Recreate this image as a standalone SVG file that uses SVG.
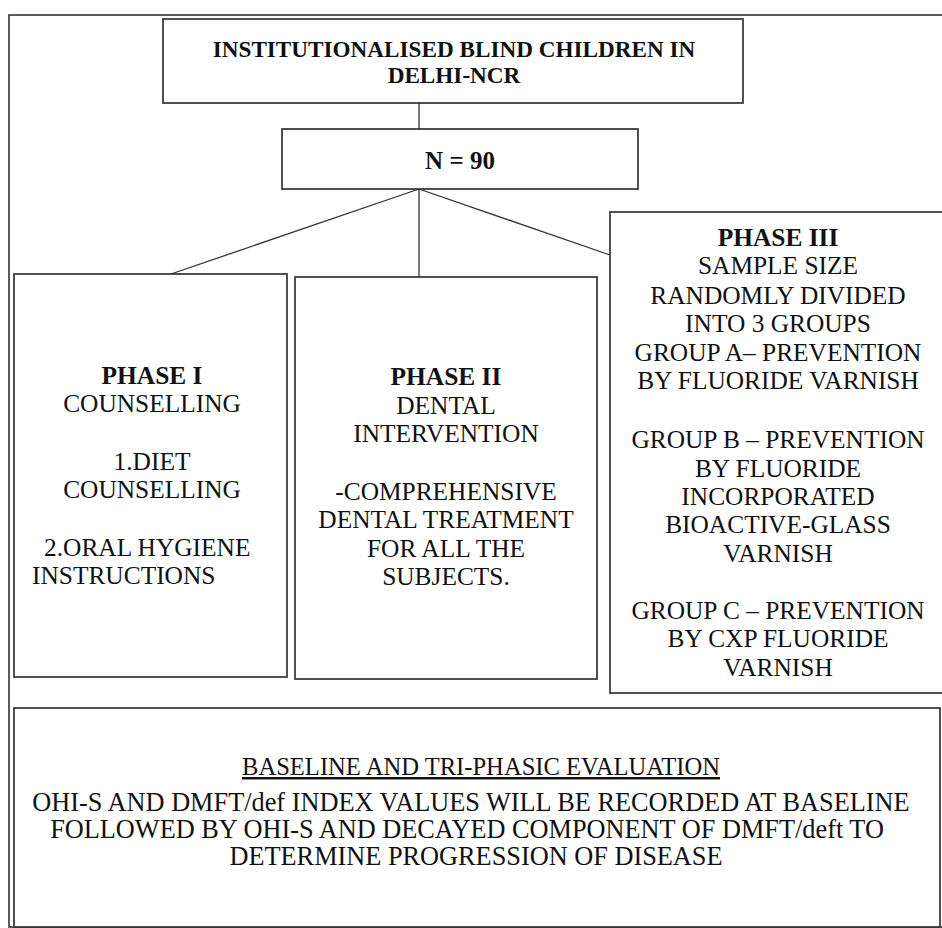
<svg xmlns="http://www.w3.org/2000/svg" width="942" height="928" viewBox="0 0 942 928">
<style>
.box{fill:#fff;stroke:#333;stroke-width:1.7}
.frame{fill:none;stroke:#333;stroke-width:1.6}
.con{stroke:#333;stroke-width:1.3;fill:none}
text{font-family:"Liberation Serif","Times New Roman",serif;fill:#111;font-size:25.4px}
.c{text-anchor:middle}
.b{font-weight:bold}
.t{font-size:23.2px}
.n{font-size:25px}
.h{font-size:24.6px;text-decoration:underline}
.e{font-size:26.3px}
</style>
<rect width="942" height="928" fill="#fff"/>
<rect class="frame" x="9" y="15" width="942" height="912"/>
<g id="connectors">
<line class="con" x1="419" y1="103" x2="419" y2="129"/>
<line class="con" x1="419" y1="189" x2="171" y2="274"/>
<line class="con" x1="419" y1="189" x2="419" y2="277"/>
<line class="con" x1="419" y1="189" x2="610" y2="255"/>
</g>
<g id="top">
<rect class="box" x="163" y="19" width="580" height="84"/>
<text class="c b t" x="454" y="57">INSTITUTIONALISED BLIND CHILDREN IN</text>
<text class="c b t" x="454" y="83">DELHI-NCR</text>
</g>
<g id="n90">
<rect class="box" x="282" y="129" width="356" height="60"/>
<text class="c b n" x="460" y="169">N = 90</text>
</g>
<g id="phase1">
<rect class="box" x="14" y="274" width="273" height="403"/>
<text class="c b" x="152" y="384">PHASE I</text>
<text class="c" x="152" y="412">COUNSELLING</text>
<text class="c" x="152" y="470">1.DIET</text>
<text class="c" x="152" y="498">COUNSELLING</text>
<text x="44" y="556">2.ORAL HYGIENE</text>
<text x="32" y="584">INSTRUCTIONS</text>
</g>
<g id="phase2">
<rect class="box" x="295" y="277" width="302" height="402"/>
<text class="c b" x="446" y="385">PHASE II</text>
<text class="c" x="446" y="414">DENTAL</text>
<text class="c" x="446" y="442">INTERVENTION</text>
<text class="c" x="446" y="500">-COMPREHENSIVE</text>
<text class="c" x="446" y="528">DENTAL TREATMENT</text>
<text class="c" x="446" y="557">FOR ALL THE</text>
<text class="c" x="446" y="585">SUBJECTS.</text>
</g>
<g id="phase3">
<rect class="box" x="610" y="212" width="340" height="481"/>
<text class="c b" x="778" y="246">PHASE III</text>
<text class="c" x="778" y="274">SAMPLE SIZE</text>
<text class="c" x="778" y="304">RANDOMLY DIVIDED</text>
<text class="c" x="778" y="332">INTO 3 GROUPS</text>
<text class="c" x="778" y="361">GROUP A– PREVENTION</text>
<text class="c" x="778" y="389">BY FLUORIDE VARNISH</text>
<text class="c" x="778" y="448">GROUP B – PREVENTION</text>
<text class="c" x="778" y="477">BY FLUORIDE</text>
<text class="c" x="778" y="505">INCORPORATED</text>
<text class="c" x="778" y="533">BIOACTIVE-GLASS</text>
<text class="c" x="778" y="562">VARNISH</text>
<text class="c" x="778" y="619">GROUP C – PREVENTION</text>
<text class="c" x="778" y="647">BY CXP FLUORIDE</text>
<text class="c" x="778" y="676">VARNISH</text>
</g>
<g id="evaluation">
<rect class="box" x="14" y="708" width="926" height="219"/>
<text class="c h" x="481" y="775">BASELINE AND TRI-PHASIC EVALUATION</text>
<text class="c e" x="471" y="811">OHI-S AND DMFT/def INDEX VALUES WILL BE RECORDED AT BASELINE</text>
<text class="c e" x="467" y="838">FOLLOWED BY OHI-S AND DECAYED COMPONENT OF DMFT/deft TO</text>
<text class="c e" x="476" y="865">DETERMINE PROGRESSION OF DISEASE</text>
</g>
</svg>
